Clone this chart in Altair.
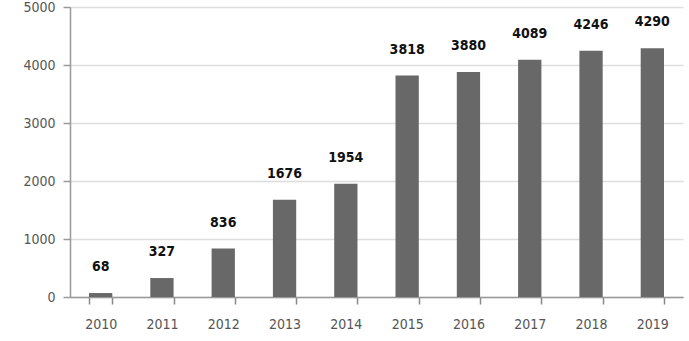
import altair as alt
import pandas as pd

years = ["2010", "2011", "2012", "2013", "2014", "2015", "2016", "2017", "2018", "2019"]
values = [68, 327, 836, 1676, 1954, 3818, 3880, 4089, 4246, 4290]

df = pd.DataFrame({"year": years, "value": values})

base = alt.Chart(df).encode(
    x=alt.X("year:N", title=None, sort=years,
            scale=alt.Scale(paddingInner=0.62, paddingOuter=0.31),
            axis=alt.Axis(labelAngle=0, labelFont="DejaVu Sans Condensed", labelFontSize=14,
                          labelColor="#555555", labelPadding=13, tickBand="extent",
                          tickSize=7, tickColor="#888888", domainColor="#999999",
                          domainWidth=1.5, tickWidth=1.5, grid=False)),
    y=alt.Y("value:Q", title=None,
            scale=alt.Scale(domain=[0, 5000]),
            axis=alt.Axis(values=[0, 1000, 2000, 3000, 4000, 5000], format="d",
                          labelFont="DejaVu Sans Condensed",
                          labelFontSize=14, labelColor="#555555", labelPadding=8,
                          tickSize=7, tickColor="#999999", domainColor="#999999",
                          domainWidth=1.5, tickWidth=1.5, gridColor="#dddddd", gridWidth=1.5)),
)

bars = base.mark_bar(color="#686868")
labels = base.mark_text(dy=-26, baseline="middle", fontWeight="bold",
                        font="DejaVu Sans Condensed", fontSize=14, color="#111111").encode(
    text=alt.Text("value:Q", format="d"))

chart = (bars + labels).properties(
    width=613, height=290,
    padding={"left": 70, "top": 7, "right": 6, "bottom": 44},
    autosize=alt.AutoSizeParams(type="none"),
    background="white",
).configure_view(stroke=None)

chart.save("out.html", embed_options={"renderer": "svg", "actions": False})
